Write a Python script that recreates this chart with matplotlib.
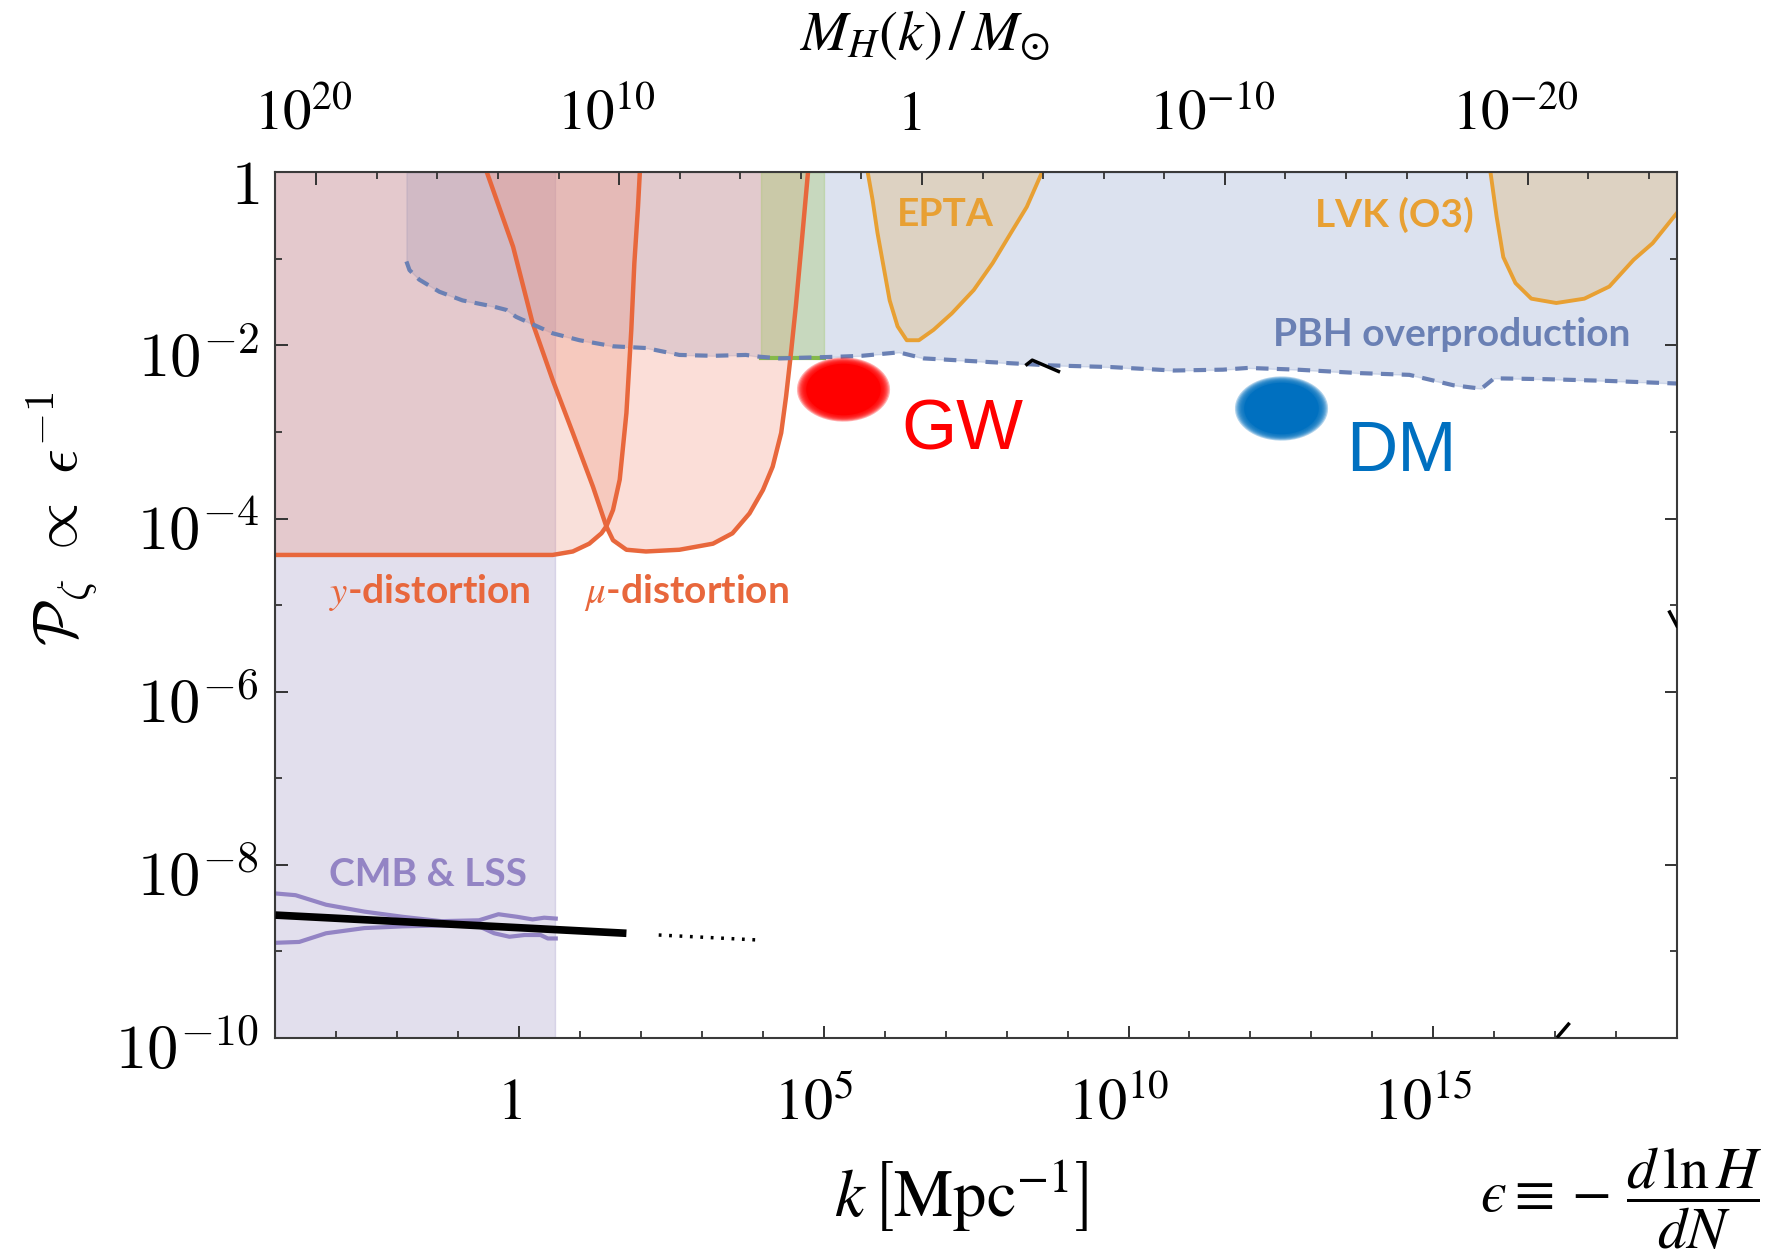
import numpy as np
import matplotlib
matplotlib.use('Agg')
import matplotlib.pyplot as plt
from matplotlib.path import Path
from matplotlib.transforms import ScaledTranslation

plt.rcParams['mathtext.fontset'] = 'stix'
plt.rcParams['font.family'] = ['DejaVu Sans']

# values, as log10 k [Mpc^-1] and log10 P_zeta
ydist_logk = [-4.0, 0.55, 0.88, 1.15, 1.35, 1.43, 1.54, 1.65, 1.76, 1.84, 1.89, 1.95, 1.98]
ydist_logP = [-4.42, -4.42, -4.38, -4.29, -4.17, -4.09, -3.90, -3.55, -2.78, -1.82, -1.05, -0.40, 0.0]

mu_logk = [-0.53, -0.10, 0.22, 0.55, 0.88, 1.21, 1.43, 1.54, 1.76, 2.08, 2.63, 3.18, 3.50,
           3.78, 4.00, 4.16, 4.30, 4.38, 4.46, 4.54, 4.63, 4.74]
mu_logP = [0.0, -0.86, -1.74, -2.40, -3.01, -3.63, -4.09, -4.25, -4.36, -4.38, -4.36, -4.29, -4.17,
           -3.94, -3.67, -3.40, -3.01, -2.59, -2.09, -1.55, -0.86, 0.0]

pbh_logk = [-1.85, -1.80, -1.64, -1.31, -0.93, -0.43, -0.21, -0.05, 0.17, 0.55, 0.99, 1.54, 2.08,
            2.63, 3.18, 3.72, 3.94, 4.27, 5.25, 5.62, 6.23, 6.64, 7.66, 8.69, 9.71, 10.73, 11.55,
            11.96, 12.77, 13.80, 14.61, 15.33, 15.79, 16.00, 16.86, 17.88, 19.0]
pbh_logP = [-1.03, -1.13, -1.24, -1.38, -1.48, -1.55, -1.59, -1.67, -1.74, -1.86, -1.94, -2.01, -2.03,
            -2.11, -2.12, -2.11, -2.13, -2.15, -2.13, -2.12, -2.08, -2.15, -2.19, -2.23, -2.25, -2.29, -2.28,
            -2.26, -2.28, -2.32, -2.34, -2.46, -2.50, -2.38, -2.39, -2.41, -2.44]

epta_logk = [5.72, 5.80, 5.88, 5.98, 6.08, 6.21, 6.36, 6.56, 6.80, 7.10, 7.46, 7.77, 8.07, 8.33, 8.58]
epta_logP = [0.0, -0.32, -0.70, -1.09, -1.48, -1.78, -1.94, -1.94, -1.82, -1.63, -1.36, -1.05, -0.70, -0.40, 0.0]

lvk_logk = [15.94, 16.04, 16.15, 16.35, 16.61, 17.02, 17.48, 17.89, 18.29, 18.60, 19.0]
lvk_logP = [0.0, -0.51, -0.98, -1.28, -1.46, -1.51, -1.46, -1.32, -1.01, -0.82, -0.47]

green_logk = [3.97, 5.01]
green_floor_logP = -2.15

cmb_edge_logk = 0.59
cmb_up_logk = [-4.0, -3.67, -3.17, -2.54, -1.91, -1.28, -0.66, -0.34, -0.03, 0.22, 0.41, 0.60]
cmb_up_logP = [-8.33, -8.35, -8.46, -8.54, -8.60, -8.65, -8.64, -8.57, -8.60, -8.63, -8.61, -8.62]
cmb_lo_logk = [-4.0, -3.61, -3.17, -2.54, -1.91, -1.28, -0.66, -0.41, -0.16, 0.09, 0.35, 0.47, 0.60]
cmb_lo_logP = [-8.90, -8.89, -8.79, -8.73, -8.71, -8.70, -8.71, -8.79, -8.83, -8.81, -8.81, -8.85, -8.85]

spec_logk = [-4.0, 1.76]
spec_logP = [-8.58, -8.79]
spec_dot_logk = [2.29, 3.99]
spec_dot_logP = [-8.81, -8.87]

# small pieces of a black curve left in the picture
frag_logk = [[8.33, 8.42, 8.85], [18.88, 19.0], [17.05, 17.22]]
frag_logP = [[-2.22, -2.17, -2.30], [-5.08, -5.24], [-9.98, -9.84]]

gw_blob = (5.32, -2.50)
dm_blob = (12.50, -2.72)

# top axis M_H(k)/M_sun = 10^13.3 k^-2.012
mh_exp0 = 13.3
mh_slope = -2.012

yticks_exp = [0, -2, -4, -6, -8, -10]
ytick_labels = ['$1$', '$10^{-2}$', '$10^{-4}$', '$10^{-6}$', '$10^{-8}$', '$10^{-10}$']
xticks_exp = [0, 5, 10, 15]
xtick_labels = ['$1$', '$10^{5}$', '$10^{10}$', '$10^{15}$']
mticks_exp = [20, 10, 0, -10, -20]
mtick_labels = ['$10^{20}$', '$10^{10}$', '$1$', '$10^{-10}$', '$10^{-20}$']


def p10(e):
    return 10.0 ** np.asarray(e, dtype=float)


orange = '#e8673c'
gold = '#e8a033'
lav = '#9384c4'
pbh_col = '#6a80b4'

fig = plt.figure(figsize=(17.77, 12.52), dpi=100)
ax = fig.add_axes([0.155, 0.1709, 0.7887, 0.6915])
ax.set_xscale('log')
ax.set_yscale('log')
ax.set_xlim(1e-4, 1e19)
ax.set_ylim(1e-10, 1)

# shaded regions
ax.fill_between(p10([-4.0, cmb_edge_logk]), 1e-10, 1, color=(143/255, 131/255, 187/255),
                alpha=0.25, lw=1, zorder=1)
ax.fill_between(p10(pbh_logk), p10(pbh_logP), 1, color=(119/255, 143/255, 195/255),
                alpha=0.25, lw=1, zorder=1.1)
ax.fill_between(p10(ydist_logk), p10(ydist_logP), 1, color=(236/255, 146/255, 124/255),
                alpha=0.28, lw=0, zorder=1.2)
ax.fill_between(p10(mu_logk), p10(mu_logP), 1, color=(242/255, 148/255, 128/255),
                alpha=0.3, lw=0, zorder=1.3)
ax.fill_between(p10(green_logk), p10(green_floor_logP), 1, color=(160/255, 200/255, 100/255),
                alpha=0.35, lw=1, zorder=1.4)
ax.fill_between(p10(epta_logk), p10(epta_logP), 1, color=(222/255, 196/255, 150/255),
                alpha=0.5, lw=0, zorder=1.5)
ax.fill_between(p10(lvk_logk), p10(lvk_logP), 1, color=(222/255, 196/255, 150/255),
                alpha=0.5, lw=0, zorder=1.5)

# boundaries
ax.plot(p10(green_logk), p10([green_floor_logP] * 2), color='#86b94a', lw=3, zorder=2)
ax.plot(p10(ydist_logk), p10(ydist_logP), color=orange, lw=3.2, zorder=2.2)
ax.plot(p10(mu_logk), p10(mu_logP), color=orange, lw=3.2, zorder=2.2)
ax.plot(p10(epta_logk), p10(epta_logP), color=gold, lw=2.8, zorder=2.2)
ax.plot(p10(lvk_logk), p10(lvk_logP), color=gold, lw=2.8, zorder=2.2)
ax.plot(p10(pbh_logk), p10(pbh_logP), color=pbh_col, lw=3, dashes=(3, 2), zorder=2.3)
ax.plot(p10(cmb_up_logk), p10(cmb_up_logP), color=lav, lw=3, zorder=2.2)
ax.plot(p10(cmb_lo_logk), p10(cmb_lo_logP), color=lav, lw=3, zorder=2.2)

ax.plot(p10(spec_logk), p10(spec_logP), color='black', lw=5.5, solid_capstyle='butt', zorder=3)
ax.plot(p10(spec_dot_logk), p10(spec_dot_logP), color='black', lw=2.5, dashes=(0.8, 2.2), zorder=3)
for fk, fp in zip(frag_logk, frag_logP):
    ax.plot(p10(fk), p10(fp), color='black', lw=2.5, zorder=3, clip_on=True)

# blurred blobs
t = np.linspace(0, 2 * np.pi, 60)
ell = Path(np.column_stack([np.cos(t), 0.69 * np.sin(t)]))
for (bk, bp), col in [(gw_blob, '#ff0000'), (dm_blob, '#0070c0')]:
    for f in np.linspace(1.10, 0.90, 8):
        ax.scatter([10.0 ** bk], [10.0 ** bp], s=(61 * f) ** 2, marker=ell, color=col,
                   alpha=0.3, lw=0, zorder=4)
    ax.scatter([10.0 ** bk], [10.0 ** bp], s=(61 * 0.88) ** 2, marker=ell, color=col,
               lw=0, zorder=4)

# region labels
lab = dict(family=['Lato', 'DejaVu Sans'], weight='bold', fontsize=28, ha='center', va='center',
           zorder=5, math_fontfamily='stix')
ax.text(10 ** 6.99, 10 ** -0.49, 'EPTA', color=gold, **lab)
ax.text(10 ** 14.37, 10 ** -0.49, 'LVK (O3)', color=gold, **lab)
ax.text(10 ** 15.31, 10 ** -1.87, 'PBH overproduction', color=pbh_col, **lab)
ax.text(10 ** -1.47, 10 ** -4.85, r'$y$-distortion', color=orange, **lab)
ax.text(10 ** 2.75, 10 ** -4.85, r'$\mu$-distortion', color=orange, **lab)
ax.text(10 ** -1.50, 10 ** -8.11, 'CMB & LSS', color=lav, **lab)

big = dict(family=['Liberation Sans', 'DejaVu Sans'], fontsize=51, ha='center', va='center', zorder=5)
ax.text(10 ** 7.27, 10 ** -2.99, 'GW', color='#ff0000', **big)
ax.text(10 ** 14.47, 10 ** -3.24, 'DM', color='#0070c0', **big)

# ticks
ax.set_yticks(p10(yticks_exp), ytick_labels, fontsize=45, math_fontfamily='cm')
ax.set_yticks(p10([-1, -3, -5, -7, -9]), minor=True)
ax.yaxis.set_minor_formatter(matplotlib.ticker.NullFormatter())
ax.set_xticks(p10(xticks_exp), xtick_labels, fontsize=42)
ax.set_xticks(p10([e for e in range(-4, 20) if e not in xticks_exp]), minor=True)
ax.xaxis.set_minor_formatter(matplotlib.ticker.NullFormatter())
ax.tick_params(which='both', direction='in', color='#333333', right=True, top=False)
ax.tick_params(which='major', length=9, width=1.4)
ax.tick_params(which='minor', length=5, width=1.3)
ax.tick_params(axis='x', pad=26)
ax.tick_params(axis='y', pad=12)
for s in ax.spines.values():
    s.set_color('#3a3a3a')
    s.set_linewidth(1.5)

ax2 = ax.twiny()
ax2.set_xscale('log')
ax2.set_xlim(10.0 ** (mh_exp0 + mh_slope * -4.0), 10.0 ** (mh_exp0 + mh_slope * 19.0))
ax2.set_xticks(p10(mticks_exp), mtick_labels, fontsize=41)
ax2.set_xticks(p10([e for e in range(-24, 22, 2) if e not in mticks_exp]), minor=True)
ax2.xaxis.set_minor_formatter(matplotlib.ticker.NullFormatter())
ax2.tick_params(which='both', direction='in', color='#333333', top=True, bottom=False,
                labelbottom=False)
ax2.tick_params(which='major', length=9, width=1.4, pad=22)
ax2.tick_params(which='minor', length=5, width=1.3)
for s in ax2.spines.values():
    s.set_visible(False)

# labels sit a little off their ticks in the picture
for lbl in ax.get_yticklabels():
    lbl.set_transform(lbl.get_transform() + ScaledTranslation(0, -0.08, fig.dpi_scale_trans))
for lbl in ax.get_xticklabels():
    lbl.set_transform(lbl.get_transform() + ScaledTranslation(-0.1, 0, fig.dpi_scale_trans))
for lbl in ax2.get_xticklabels():
    lbl.set_transform(lbl.get_transform() + ScaledTranslation(-0.13, 0, fig.dpi_scale_trans))

# axis titles
fig.text(924 / 1777, 1 - 34 / 1252, r'$M_H(k)\,/\,M_{\odot}$', fontsize=41, ha='center', va='center')
fig.text(961 / 1777, 1 - 1196 / 1252, r'$k\,\left[\mathrm{Mpc}^{-1}\right]$', fontsize=48,
         ha='center', va='center')
fig.text(62 / 1777, 1 - 519 / 1252, r'$\mathcal{P}_\zeta\ \propto\ \epsilon^{-1}$', fontsize=44,
         rotation=90, ha='center', va='center', math_fontfamily='cm')
fig.text(1762 / 1777, 1 - 1199 / 1252, '$\u03f5 \\equiv -\\,\\dfrac{d\\,\\ln H}{dN}$',
         fontsize=42, ha='right', va='center')

fig.savefig('out.png', dpi=100)
